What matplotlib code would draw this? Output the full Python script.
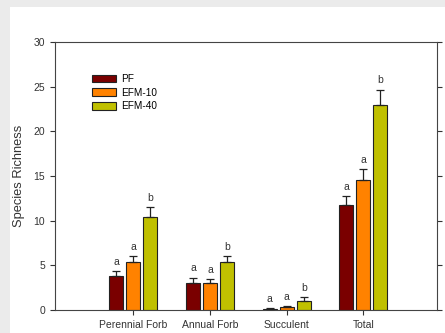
import numpy as np
import matplotlib
matplotlib.use("Agg")
import matplotlib.pyplot as plt
from matplotlib.patches import Rectangle

plt.rcParams['font.family'] = ['Liberation Sans', 'DejaVu Sans']

categories = ["Perennial Forb", "Annual Forb", "Succulent", "Total"]
groups = ["PF", "EFM-10", "EFM-40"]
pf = [3.8, 3.0, 0.12, 11.75]
efm10 = [5.4, 3.0, 0.3, 14.6]
efm40 = [10.4, 5.4, 1.05, 22.9]
pf_err = [0.56, 0.6, 0.05, 1.0]
efm10_err = [0.63, 0.45, 0.1, 1.16]
efm40_err = [1.08, 0.63, 0.4, 1.75]
letters = [["a", "a", "a", "a"], ["a", "a", "a", "a"], ["b", "b", "b", "b"]]
colors = ["#7a0000", "#ff8200", "#c0c000"]

fig = plt.figure(figsize=(4.45, 3.33), dpi=100)
fig.patch.set_facecolor("#ebebeb")
fig.patches.append(Rectangle((10 / 445, 0), 1, 1 - 7 / 333, transform=fig.transFigure,
                             facecolor="white", edgecolor="none", zorder=-1))

ax = fig.add_axes([55 / 445, 1 - 310 / 333, 382 / 445, 268 / 333])
x = np.arange(len(categories))
w = 0.185
off = 0.222
for i, (vals, errs, c, g) in enumerate(zip([pf, efm10, efm40], [pf_err, efm10_err, efm40_err], colors, groups)):
    xs = x + (i - 1) * off
    ax.bar(xs, vals, w, color=c, edgecolor="#222222", linewidth=0.8, label=g, zorder=2)
    ax.errorbar(xs, vals, yerr=[np.zeros(len(vals)), errs], fmt="none", ecolor="#222222",
                elinewidth=0.9, capsize=3, capthick=0.9, zorder=3)
    for xx, v, e, l in zip(xs, vals, errs, letters[i]):
        ax.text(xx, v + e + 0.5, l, ha="center", va="bottom", fontsize=7.5, color="#333333")

ax.set_xlim(-1.02, 3.96)
ax.set_ylim(0, 30)
ax.set_yticks(range(0, 31, 5))
ax.set_xticks(x)
ax.set_xticklabels(categories)
ax.tick_params(axis="both", labelsize=7.5, colors="#333333", direction="out", length=3.5)
ax.tick_params(axis="y", right=True)
for s in ax.spines.values():
    s.set_color("#444444")
    s.set_linewidth(0.8)
ax.set_ylabel("Species Richness", fontsize=9.3, color="#333333", labelpad=6)

ax.legend(loc="upper left", bbox_to_anchor=(0.072, 0.915), frameon=False, fontsize=7.2,
          handlelength=2.4, handleheight=0.75, labelspacing=0.38, handletextpad=0.6)

fig.savefig("out.png", dpi=100, facecolor=fig.get_facecolor())
